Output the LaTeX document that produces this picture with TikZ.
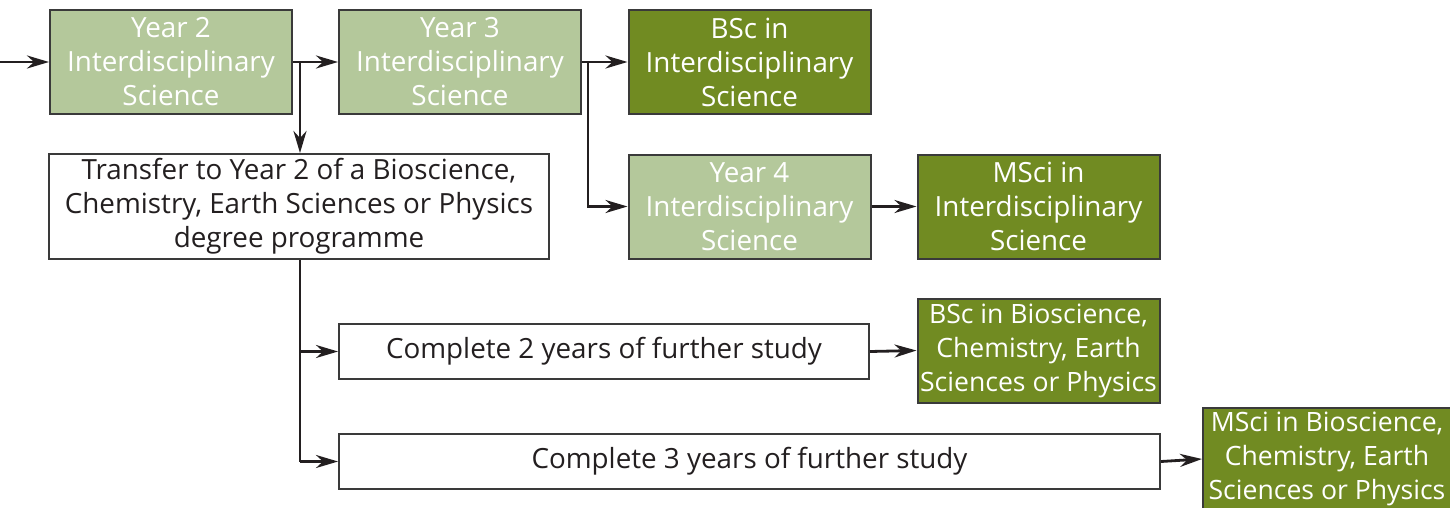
\documentclass[tikz,border=0pt]{standalone}
\usepackage{fontspec}
\setmainfont{Open Sans}
\usetikzlibrary{calc,positioning,arrows.meta}
\definecolor{YearGreen}{HTML}{B4C89B}
\definecolor{DegreeGreen}{HTML}{718B22}
\definecolor{EdgeGray}{HTML}{3A3A3A}
\definecolor{InkDark}{HTML}{231F20}

\begin{document}
\begin{tikzpicture}[
    x=0.5pt, y=-0.5pt,
    font=\fontsize{13.9pt}{17pt}\selectfont,
    box/.style={draw=EdgeGray, line width=1pt, inner xsep=0pt, inner ysep=2pt, align=center},
    yearbox/.style={box, fill=YearGreen, text=white,
      minimum width=121pt, minimum height=52pt},
    degreebox/.style={box, fill=DegreeGreen, text=white,
      minimum width=121pt, minimum height=52pt},
    plainbox/.style={box, fill=white, text=InkDark},
    tight/.style={font=\fontsize{13.3pt}{17pt}\selectfont},
    flow/.style={draw=InkDark, line width=1.4pt,
      -{Stealth[length=11pt, width=6.5pt, inset=3.5pt]}},
    link/.style={draw=InkDark, line width=1.4pt}
  ]
  \useasboundingbox (0,0) rectangle (1450,508);

  % interdisciplinary route
  \node[yearbox] (yeartwo) at (171,62) {Year 2\\Interdisciplinary\\Science};
  \node[yearbox] (yearthree) at (460,62) {Year 3\\Interdisciplinary\\Science};
  \node[degreebox] (bscinter) at (749.5,62) {BSc in\\Interdisciplinary\\Science};
  \node[yearbox] (yearfour) at (749.5,206.5) {Year 4\\Interdisciplinary\\Science};
  \node[degreebox] (mscinter) at (1038.5,206.5) {MSci in\\Interdisciplinary\\Science};

  % transfer route
  \node[plainbox, minimum width=250pt, minimum height=52.5pt] (transfer) at (299,206.5)
    {Transfer to Year 2 of a Bioscience,\\Chemistry, Earth Sciences or Physics\\degree programme};
  \node[plainbox, minimum width=265pt, minimum height=27.5pt] (twoyears) at (604,351.5)
    {Complete 2 years of further study};
  \node[plainbox, minimum width=410.5pt, minimum height=27.5pt] (threeyears) at (749.5,461.5)
    {Complete 3 years of further study};
  \node[degreebox, tight] (bscbio) at (1038.5,350.5) {BSc in Bioscience,\\Chemistry, Earth\\Sciences or Physics};
  \node[degreebox, tight, minimum width=124pt, minimum height=51pt] (mscbio) at (1327,459)
    {MSci in Bioscience,\\Chemistry, Earth\\Sciences or Physics};

  \coordinate (entry) at (0,62);
  \coordinate (splittwo) at (300,62);
  \coordinate (splitthree) at (588,62);
  \coordinate (splitdown) at (300,259);

  % connectors
  \draw[flow] (entry) -- (yeartwo.west);
  \draw[flow] (yeartwo.east) -- (yearthree.west);
  \draw[flow] (splittwo) -- (splittwo |- transfer.north);
  \draw[flow] (yearthree.east) -- (bscinter.west);
  \draw[flow] (splitthree) |- (yearfour.west);
  \draw[flow] (yearfour.east) -- (mscinter.west);
  \draw[link] (transfer.south -| splitdown) -- (splitdown |- threeyears.west);
  \draw[flow] (splitdown |- twoyears.west) -- (twoyears.west);
  \draw[flow] (splitdown |- threeyears.west) -- (threeyears.west);
  \draw[flow] (twoyears.east) -- (bscbio.west);
  \draw[flow] (threeyears.east) -- (mscbio.west);
\end{tikzpicture}
\end{document}
